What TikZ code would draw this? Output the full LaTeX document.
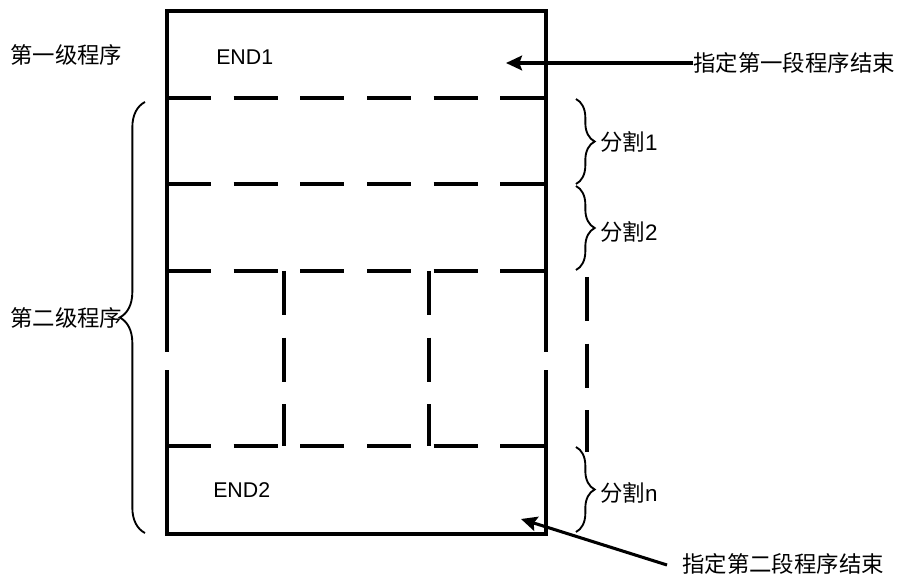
\documentclass[tikz,border=0pt]{standalone}
\usepackage{fontspec}
\setmainfont{Liberation Sans}
\newfontfamily\cjk{Noto Sans CJK SC}
\usetikzlibrary{arrows.meta,decorations.pathreplacing}
\begin{document}
\begin{tikzpicture}[x=0.75pt,y=-0.75pt,
  frame/.style={line width=2.6pt},
  dash6/.style={line width=2.4pt,dash pattern=on 33pt off 17pt},
  bracel/.style={line width=1.4pt,decorate,decoration={brace,amplitude=#1}},
  arr/.style={line width=2.3pt,-{Stealth[length=12pt,width=11pt,inset=2pt]}},
  lat/.style={inner sep=0pt,anchor=west,font=\fontsize{16}{19}\selectfont},
  zh/.style={inner sep=0pt,anchor=west,font=\fontsize{16.8}{20}\selectfont\cjk},
]
\useasboundingbox (0,0) rectangle (901,577);
% main box
\draw[frame] (167,11) rectangle (546,534);
% white breaks on the edges
\draw[white,line width=4pt] (167,352) -- (167,370);
\draw[white,line width=4pt] (546,352) -- (546,370);
% horizontal dashed lines
\foreach \y in {98,184,271,446}
  \draw[dash6] (167,\y) -- (546,\y);
% vertical dashed lines
\draw[dash6] (284,271) -- (284,446);
\draw[dash6] (429,271) -- (429,446);
\draw[dash6] (587,277) -- (587,452);
% texts
\node[lat] (end1) at (216,57) {END1};
\node[lat] (end2) at (213,490) {END2};
\node[zh] (lv1) at (10,55) {第一级程序};
\node[zh] (lv2) at (10,318) {第二级程序};
\node[zh] (p1) at (600,142) {分割{\rmfamily 1}};
\node[zh] (p2) at (600,232) {分割{\rmfamily 2}};
\node[zh] (pn) at (600,493) {分割{\rmfamily n}};
\node[zh] (t1) at (693,63) {指定第一段程序结束};
\node[zh] (t2) at (682,564) {指定第二段程序结束};
% braces
\draw[bracel=14pt] (576,99) -- (576,184);
\draw[bracel=14pt] (576,186) -- (576,270);
\draw[bracel=14pt] (576,447) -- (576,532);
\draw[bracel=19pt] (145,533) -- (145,102);
% arrows
\coordinate (a1) at (506,63);
\coordinate (b0) at (667,565);
\coordinate (b1) at (521,519);
\draw[arr] (t1.west) -- (a1);
\draw[arr] (b0) -- (b1);
\end{tikzpicture}
\end{document}
